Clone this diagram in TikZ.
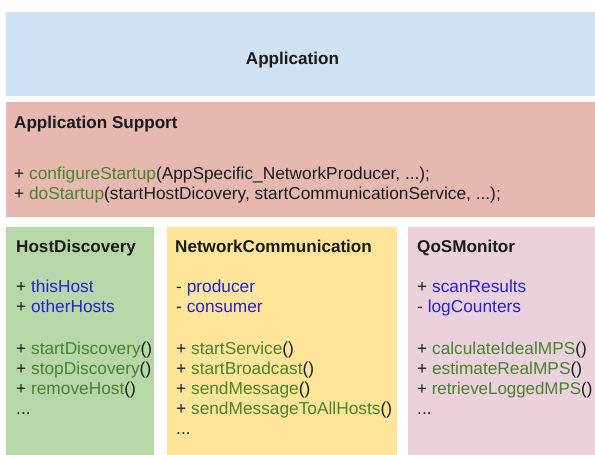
\documentclass[tikz,border=0pt]{standalone}
\usepackage{fontspec}
\setmainfont{Liberation Sans}
\definecolor{appblue}{HTML}{CFE2F3}
\definecolor{suppred}{HTML}{E6B8AF}
\definecolor{hdgreen}{HTML}{B6D7A8}
\definecolor{ncyellow}{HTML}{FFE599}
\definecolor{qospink}{HTML}{EAD1DC}
\definecolor{mgreen}{HTML}{4A8330}
\definecolor{ablue}{HTML}{2323D0}
\definecolor{ink}{HTML}{1A1A1A}
\newcommand\mth[1]{\textcolor{mgreen}{#1}}
\newcommand\atr[1]{\textcolor{ablue}{#1}}
\begin{document}
\begin{tikzpicture}[x=1pt,y=-1pt,
  box/.style={draw=none, inner sep=0, outer sep=0, anchor=north west},
  txt/.style={anchor=base west, inner sep=0, text=ink, font=\fontsize{17.3}{20}\selectfont},
  ttl/.style={txt, font=\fontsize{17.1}{20}\selectfont\bfseries}]
\useasboundingbox (0,0) rectangle (595,455);
% boxes
\node[box, fill=appblue, minimum width=589pt, minimum height=84pt] (app) at (6,12) {};
\node[box, fill=suppred, minimum width=589pt, minimum height=115pt] (supp) at (6,102) {};
\node[box, fill=hdgreen, minimum width=148pt, minimum height=228pt] (hd) at (6,227) {};
\node[box, fill=ncyellow, minimum width=230pt, minimum height=228pt] (nc) at (167,227) {};
\node[box, fill=qospink, minimum width=187pt, minimum height=228pt] (qos) at (408,227) {};
% Application
\node[ttl, anchor=base] (apptxt) at (292.5,64) {Application};
% Application Support
\node[ttl] (supptxt) at (14,128) {Application Support};
\node[txt] (s1) at (14,179) {+ \mth{configureStartup}(AppSpecific\_NetworkProducer, ...);};
\node[txt] (s2) at (14,199) {+ \mth{doStartup}(startHostDicovery, startCommunicationService, ...);};
% HostDiscovery
\node[ttl] (hdt) at (16,252) {HostDiscovery};
\node[txt] (h1) at (16,292) {+ \atr{thisHost}};
\node[txt] (h2) at (16,312) {+ \atr{otherHosts}};
\node[txt] (h3) at (16,354) {+ \mth{startDiscovery}()};
\node[txt] (h4) at (16,374) {+ \mth{stopDiscovery}()};
\node[txt] (h5) at (16,394) {+ \mth{removeHost}()};
\node[txt] (h6) at (16,414) {...};
% NetworkCommunication
\node[ttl] (nct) at (175,252) {NetworkCommunication};
\node[txt] (n1) at (176,292) {- \atr{producer}};
\node[txt] (n2) at (176,312) {- \atr{consumer}};
\node[txt] (n3) at (176,354) {+ \mth{startService}()};
\node[txt] (n4) at (176,374) {+ \mth{startBroadcast}()};
\node[txt] (n5) at (176,394) {+ \mth{sendMessage}()};
\node[txt] (n6) at (176,414) {+ \mth{sendMessageToAllHosts}()};
\node[txt] (n7) at (176,434) {...};
% QoSMonitor
\node[ttl] (qt) at (417,252) {QoSMonitor};
\node[txt] (q1) at (417,292) {+ \atr{scanResults}};
\node[txt] (q2) at (417,312) {- \atr{logCounters}};
\node[txt] (q3) at (417,354) {+ \mth{calculateIdealMPS}()};
\node[txt] (q4) at (417,374) {+ \mth{estimateRealMPS}()};
\node[txt, font=\fontsize{16.9}{20}\selectfont] (q5) at (417,394) {+ \mth{retrieveLoggedMPS}()};
\node[txt] (q6) at (417,414) {...};
\end{tikzpicture}
\end{document}
